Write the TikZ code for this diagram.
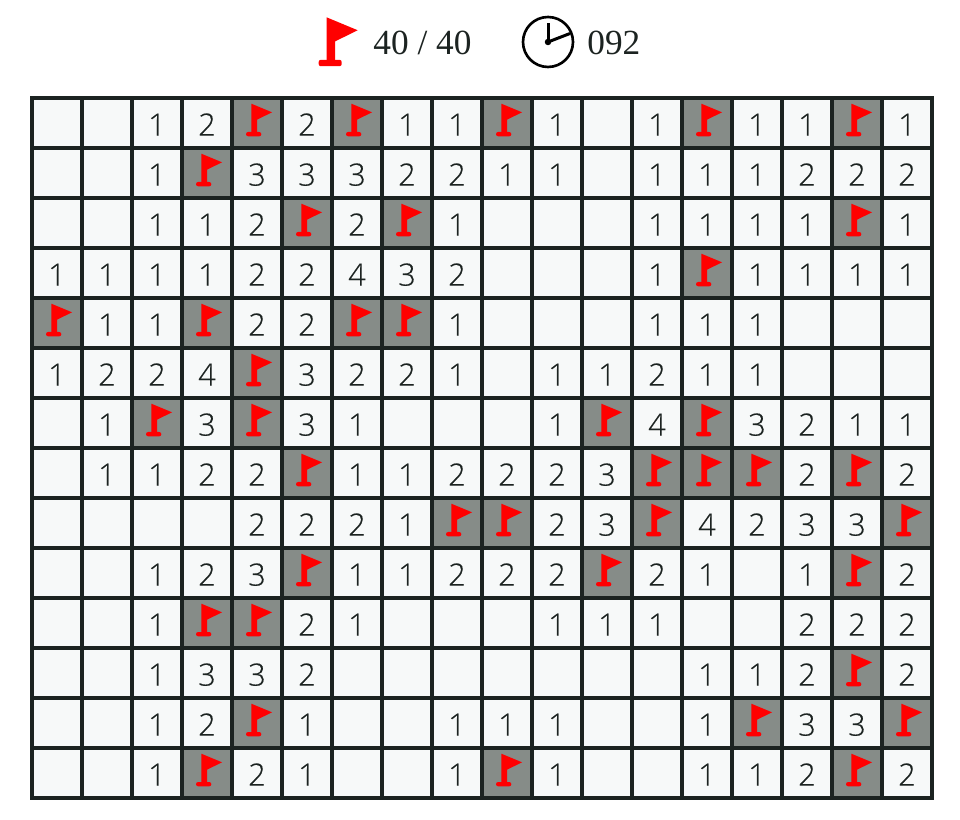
\documentclass[tikz,border=0pt]{standalone}
\usepackage{fontspec}
\setmainfont{Liberation Serif}
\newfontfamily\numfont[FakeBold=0.3]{Open Sans Light}
\usetikzlibrary{positioning}
\definecolor{inkdark}{HTML}{1C2321}
\definecolor{cellpale}{HTML}{F7F9F9}
\definecolor{cellgrey}{HTML}{868C88}
\definecolor{flagred}{HTML}{FF0000}
\def\flagmark{F}

\begin{document}
\begin{tikzpicture}[x=0.02cm,y=-0.02cm,
  cell/.style={rectangle,draw=inkdark,line width=2.27pt,fill=cellpale,
    minimum size=1cm,inner sep=0pt,text=inkdark,text height=14.4pt,text depth=0pt,
    font=\numfont\fontsize{17.5}{17.5}\selectfont},
  flagged/.style={cell,fill=cellgrey},
  head/.style={inner sep=0pt,text=inkdark,font=\fontsize{20.1}{20}\selectfont,anchor=base west},
  flagicon/.pic={
    \fill[flagred] (-5.7,-19.3)--(15,-10.7)--(0,-3.3)--(0,10)--(-5.7,10)--cycle;
    \fill[flagred,rounded corners=1.2pt] (-11,9) rectangle (4.3,13.3);
  }
]
  \useasboundingbox (0,0) rectangle (960,820);
  % header
  \pic[scale=1.5] at (335.2,46.3) {flagicon};
  \node[head] (score) at (373,55) {40 / 40};
  \node[circle,draw=black,line width=1.5pt,minimum size=1cm,inner sep=0pt] (clock) at (548,42) {};
  \node[circle,fill=black,minimum size=0.13cm,inner sep=0pt] (hub) at (clock.center) {};
  \coordinate (hourtip) at (548,23.5);
  \coordinate (mintip) at (570,33.5);
  \draw[black,line width=1.7pt] (hub.center)--(hourtip);
  \draw[black,line width=1.7pt] (hub.center)--(mintip);
  \node[head] (timer) at (587,55) {092};
  % board
  \foreach \cells [count=\r] in {
    {,,1,2,F,2,F,1,1,F,1,,1,F,1,1,F,1},
    {,,1,F,3,3,3,2,2,1,1,,1,1,1,2,2,2},
    {,,1,1,2,F,2,F,1,,,,1,1,1,1,F,1},
    {1,1,1,1,2,2,4,3,2,,,,1,F,1,1,1,1},
    {F,1,1,F,2,2,F,F,1,,,,1,1,1,,,},
    {1,2,2,4,F,3,2,2,1,,1,1,2,1,1,,,},
    {,1,F,3,F,3,1,,,,1,F,4,F,3,2,1,1},
    {,1,1,2,2,F,1,1,2,2,2,3,F,F,F,2,F,2},
    {,,,,2,2,2,1,F,F,2,3,F,4,2,3,3,F},
    {,,1,2,3,F,1,1,2,2,2,F,2,1,,1,F,2},
    {,,1,F,F,2,1,,,,1,1,1,,,2,2,2},
    {,,1,3,3,2,,,,,,,,1,1,2,F,2},
    {,,1,2,F,1,,,1,1,1,,,1,F,3,3,F},
    {,,1,F,2,1,,,1,F,1,,,1,1,2,F,2}}
  {
    \foreach \v [count=\c] in \cells {
      \pgfmathsetmacro{\px}{7+50*\c}
      \pgfmathsetmacro{\py}{73+50*\r}
      \ifx\v\flagmark
        \node[flagged] (c\r-\c) at (\px,\py) {};
        \pic at (\px,\py) {flagicon};
      \else
        \node[cell] (c\r-\c) at (\px,\py) {\v};
      \fi
    }
  }
\end{tikzpicture}
\end{document}
